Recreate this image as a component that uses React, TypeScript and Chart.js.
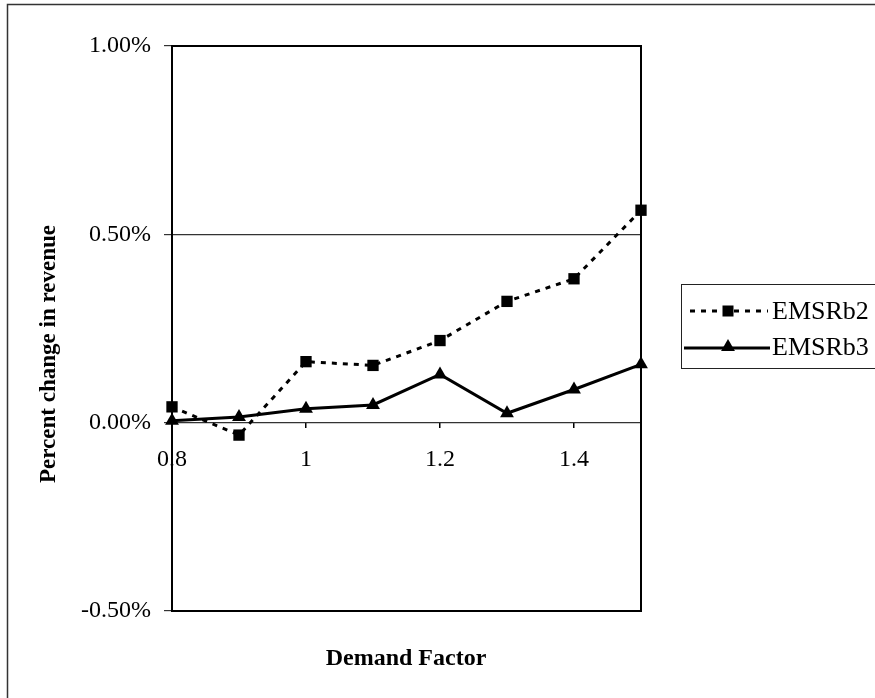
import React, { useEffect, useRef } from "react";
import { Chart, registerables } from "chart.js";

Chart.register(...registerables);

const DEMAND_FACTORS = [0.8, 0.9, 1.0, 1.1, 1.2, 1.3, 1.4, 1.5];
const EMSRB2 = [0.042, -0.033, 0.162, 0.152, 0.218, 0.322, 0.382, 0.564];
const EMSRB3 = [0.005, 0.015, 0.037, 0.047, 0.128, 0.025, 0.088, 0.155];
const X_TICKS = [0.8, 1, 1.2, 1.4];
const Y_TICKS = [-0.5, 0, 0.5, 1.0];
const SERIES_NAMES = ["EMSRb2", "EMSRb3"];
const X_TITLE = "Demand Factor";
const Y_TITLE = "Percent change in revenue";

const FONT = '"Liberation Serif", "Times New Roman", serif';

function drawSquare(ctx: CanvasRenderingContext2D, x: number, y: number, s: number) {
  ctx.fillRect(x - s / 2, y - s / 2, s, s);
}
function drawTriangle(ctx: CanvasRenderingContext2D, x: number, y: number, r: number) {
  ctx.beginPath();
  ctx.moveTo(x, y - r);
  ctx.lineTo(x + r * 0.866, y + r / 2);
  ctx.lineTo(x - r * 0.866, y + r / 2);
  ctx.closePath();
  ctx.fill();
}

const decorPlugin = {
  id: "decor",
  beforeDatasetsDraw(chart: any) {
    const { ctx, chartArea } = chart;
    ctx.save();
    ctx.strokeStyle = "#000";
    ctx.lineWidth = 2;
    ctx.strokeRect(chartArea.left, chartArea.top, chartArea.right - chartArea.left, chartArea.bottom - chartArea.top);
    ctx.restore();
  },
  afterDraw(chart: any) {
    const { ctx } = chart;
    ctx.save();
    // outer frame (top and left visible)
    ctx.strokeStyle = "#333";
    ctx.lineWidth = 1.5;
    ctx.beginPath();
    ctx.moveTo(7.5, 698);
    ctx.lineTo(7.5, 4.5);
    ctx.lineTo(875, 4.5);
    ctx.stroke();

    // axis titles
    ctx.fillStyle = "#000";
    ctx.font = `bold 24px ${FONT}`;
    ctx.textAlign = "center";
    ctx.textBaseline = "alphabetic";
    ctx.fillText(X_TITLE, 406, 665);
    ctx.save();
    ctx.font = `bold 23px ${FONT}`;
    ctx.translate(49, 354);
    ctx.rotate(-Math.PI / 2);
    ctx.textBaseline = "middle";
    ctx.fillText(Y_TITLE, 0, 0);
    ctx.restore();

    // legend
    ctx.strokeStyle = "#222";
    ctx.lineWidth = 1;
    ctx.strokeRect(681.5, 284.5, 220, 84);
    ctx.font = `26px ${FONT}`;
    ctx.textAlign = "left";
    ctx.textBaseline = "middle";
    // row 1
    ctx.strokeStyle = "#000";
    ctx.lineWidth = 3;
    ctx.setLineDash([5, 6]);
    ctx.beginPath();
    ctx.moveTo(690, 311);
    ctx.lineTo(768, 311);
    ctx.stroke();
    ctx.setLineDash([]);
    drawSquare(ctx, 728, 311, 11);
    ctx.fillText(SERIES_NAMES[0], 772, 312);
    // row 2
    ctx.beginPath();
    ctx.moveTo(684, 348);
    ctx.lineTo(770, 348);
    ctx.stroke();
    drawTriangle(ctx, 728, 347, 8);
    ctx.fillText(SERIES_NAMES[1], 772, 348);
    ctx.restore();
  },
};

export default function App() {
  const ref = useRef<HTMLCanvasElement | null>(null);
  useEffect(() => {
    document.body.style.margin = "0";
    const canvas = ref.current!;
    const tickFont = { family: FONT, size: 24 };
    const chart = new Chart(canvas, {
      type: "line",
      data: {
        datasets: [
          {
            label: SERIES_NAMES[0],
            data: DEMAND_FACTORS.map((x, i) => ({ x, y: EMSRB2[i] })),
            borderColor: "#000",
            backgroundColor: "#000",
            borderWidth: 3,
            borderDash: [5, 6],
            pointStyle: "rect",
            pointRadius: 8,
            pointBorderWidth: 0,
            pointBackgroundColor: "#000",
            tension: 0,
            clip: false,
          } as any,
          {
            label: SERIES_NAMES[1],
            data: DEMAND_FACTORS.map((x, i) => ({ x, y: EMSRB3[i] })),
            borderColor: "#000",
            backgroundColor: "#000",
            borderWidth: 3,
            pointStyle: "triangle",
            pointRadius: 8,
            pointBorderWidth: 0,
            pointBackgroundColor: "#000",
            tension: 0,
            clip: false,
          } as any,
        ],
      },
      options: {
        responsive: false,
        animation: false,
        devicePixelRatio: 1,
        layout: { padding: { left: 0, top: 46, right: 234, bottom: 87 } },
        plugins: { legend: { display: false }, tooltip: { enabled: false } },
        scales: {
          x: {
            type: "linear",
            position: { y: 0 } as any,
            min: 0.8,
            max: 1.5,
            afterBuildTicks: (s: any) => {
              s.ticks = X_TICKS.map((v) => ({ value: v }));
            },
            grid: { display: true, drawOnChartArea: false, drawTicks: true, tickLength: 5, color: "#000", lineWidth: 1.5 },
            border: { display: true, color: "#333", width: 1 },
            ticks: {
              font: tickFont,
              color: "#000",
              padding: 18,
              autoSkip: false,
              maxRotation: 0,
              callback: (v: any) => String(Number(v)),
            },
          },
          y: {
            type: "linear",
            position: "left",
            min: -0.5,
            max: 1.0,
            afterBuildTicks: (s: any) => {
              s.ticks = Y_TICKS.map((v) => ({ value: v }));
            },
            afterFit: (s: any) => {
              s.width = 172;
            },
            grid: { color: "#333", lineWidth: 1.2, drawTicks: true, tickLength: 8 },
            border: { display: true, color: "#000", width: 2 },
            ticks: {
              font: tickFont,
              color: "#000",
              padding: 13,
              callback: (v: any) => Number(v).toFixed(2) + "%",
            },
          },
        },
      },
      plugins: [decorPlugin],
    });
    return () => chart.destroy();
  }, []);
  return (
    <canvas
      ref={ref}
      width={875}
      height={698}
      style={{ display: "block", width: 875, height: 698, background: "#fff" }}
    />
  );
}
